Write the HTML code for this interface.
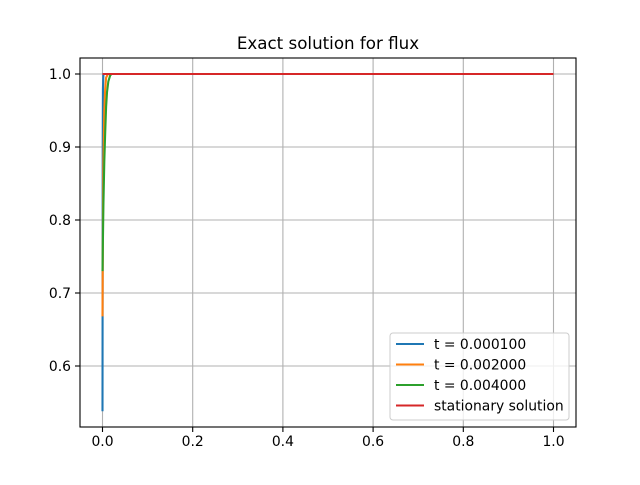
<!DOCTYPE html>
<html><head><meta charset="utf-8"><style>
body{margin:0;background:#fff;font-family:"Liberation Sans","DejaVu Sans",sans-serif}
</style></head><body>
<svg id="chart" width="640" height="480" xmlns="http://www.w3.org/2000/svg" font-family="DejaVu Sans, Liberation Sans, sans-serif">
<rect width="640" height="480" fill="#fff"/>
<text x="328" y="49" text-anchor="middle" font-size="16.7">Exact solution for flux</text>
<g id="grid"></g><g id="series"></g>
<rect x="80" y="58" width="496" height="369" fill="none" stroke="#000" stroke-width="1.1"/>
<g id="axes" font-size="13.9"></g>
<g id="legend"></g>
</svg>
<script>
const xTicks=[0,0.2,0.4,0.6,0.8,1.0];
const xTickLabels=["0.0","0.2","0.4","0.6","0.8","1.0"];
const yTicks=[0.6,0.7,0.8,0.9,1.0];
const yTickLabels=["0.6","0.7","0.8","0.9","1.0"];
const seriesNames=["t = 0.000100","t = 0.002000","t = 0.004000","stationary solution"];
const seriesColors=["#1f77b4","#ff7f0e","#2ca02c","#d62728"];
const blueX=[0,0.0005,0.001,0.002,1];
const blueY=[0.538,0.9,0.98,1,1];
const orangeX=[0,0.001,0.002,0.004,0.006,0.008,0.012,1];
const orangeY=[0.668,0.8,0.88,0.95,0.98,0.995,1,1];
const greenX=[0,0.002,0.004,0.006,0.008,0.010,0.013,0.017,0.02,1];
const greenY=[0.73,0.82,0.88,0.92,0.955,0.975,0.99,0.998,1,1];
const redX=[0,1];
const redY=[1,1];
const NS="http://www.w3.org/2000/svg";
const X=v=>102.5+v*451;
const Y=v=>74+(1-v)*730;
function mk(t,a,p){const e=document.createElementNS(NS,t);for(const k in a)e.setAttribute(k,a[k]);p.appendChild(e);return e;}
const grid=document.getElementById('grid'),axes=document.getElementById('axes'),ser=document.getElementById('series'),leg=document.getElementById('legend');
xTicks.forEach((v,i)=>{
 const g=mk('line',{x1:X(v),x2:X(v),y1:58,y2:427,stroke:'#b0b0b0','stroke-width':1.1},grid);
 
 
 mk('line',{x1:X(v),x2:X(v),y1:427,y2:432,stroke:'#000','stroke-width':1.1},axes);
 const t=mk('text',{x:X(v),y:446,'text-anchor':'middle'},axes);t.textContent=xTickLabels[i];
 
 
});
yTicks.forEach((v,i)=>{
 const g=mk('line',{x1:80,x2:576,y1:Y(v),y2:Y(v),stroke:'#b0b0b0','stroke-width':1.1},grid);
 
 
 mk('line',{x1:75,x2:80,y1:Y(v),y2:Y(v),stroke:'#000','stroke-width':1.1},axes);
 const t=mk('text',{x:71,y:Y(v)+5,'text-anchor':'end'},axes);t.textContent=yTickLabels[i];
 
 
});
const data=[[blueX,blueY],[orangeX,orangeY],[greenX,greenY],[redX,redY]];
const names=['series-t-0.0001','series-t-0.002','series-t-0.004','series-stationary'];
data.forEach((d,i)=>{
 const p=mk('polyline',{points:d[0].map((x,j)=>X(x)+','+Y(d[1][j])).join(' '),fill:'none',stroke:seriesColors[i],'stroke-width':2.1},ser);
 
 
});
const lb=mk('rect',{x:390,y:333,width:179,height:87,rx:3,fill:'#fff','fill-opacity':0.8,stroke:'#ccc'},leg);


seriesNames.forEach((n,i)=>{
 const y=344+i*20.5;
 const g=mk('g',{},leg);
 
 
 mk('line',{x1:396,x2:424,y1:y,y2:y,stroke:seriesColors[i],'stroke-width':2.1},g);
 const t=mk('text',{x:434,y:y+5,'font-size':13.9},g);t.textContent=n;
});
</script>
</body></html>
